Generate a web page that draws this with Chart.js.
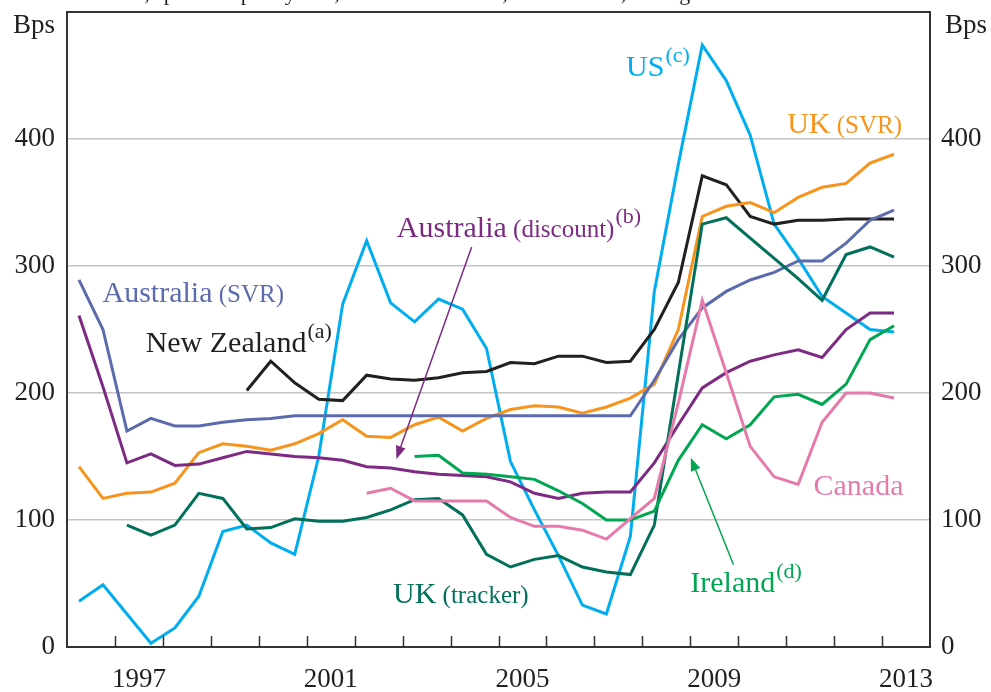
<!DOCTYPE html>
<html>
<head>
<meta charset="utf-8">
<script src="https://cdn.jsdelivr.net/npm/chart.js@4.4.0/dist/chart.umd.min.js"></script>
<style>
  html, body { margin: 0; padding: 0; background: #fff; }
  #chart { display: block; }
</style>
</head>
<body>
<canvas id="chart" width="991" height="692"></canvas>
<script>
const serif = "'Liberation Serif', 'Times New Roman', serif";

// half-year observations, plotted in the middle of each half
const periods = [
  1996.25, 1996.75, 1997.25, 1997.75, 1998.25, 1998.75, 1999.25, 1999.75,
  2000.25, 2000.75, 2001.25, 2001.75, 2002.25, 2002.75, 2003.25, 2003.75,
  2004.25, 2004.75, 2005.25, 2005.75, 2006.25, 2006.75, 2007.25, 2007.75,
  2008.25, 2008.75, 2009.25, 2009.75, 2010.25, 2010.75, 2011.25, 2011.75,
  2012.25, 2012.75, 2013.25
];
const yearLabels = [1997, 2001, 2005, 2009, 2013];
const yTicks = [0, 100, 200, 300, 400];

// spreads in basis points
const us = [36, 49, 26, 3, 15, 40, 91, 96, 82, 73, 150, 270, 320, 271, 256, 274, 266, 235,
  146, 108, 72, 33, 26, 87, 280, 380, 474, 446, 403, 333, 306, 276, 263, 250, 248];
const ukSvr = [142, 117, 121, 122, 129, 153, 160, 158, 155, 160, 168, 179, 166, 165, 175, 181, 170, 180,
  187, 190, 189, 184, 189, 196, 207, 250, 339, 347, 350, 342, 354, 362, 365, 381, 388];
const newZealand = [null, null, null, null, null, null, null, 202, 225, 208, 195, 194, 214, 211, 210, 212, 216, 217,
  224, 223, 229, 229, 224, 225, 250, 287, 371, 364, 339, 333, 336, 336, 337, 337, 337];
const ausSvr = [289, 250, 170, 180, 174, 174, 177, 179, 180, 182, 182, 182, 182, 182, 182, 182, 182, 182,
  182, 182, 182, 182, 182, 182, 210, 242, 267, 280, 289, 295, 304, 304, 318, 336, 344];
const ausDiscount = [261, 205, 145, 152, 143, 144, 149, 154, 152, 150, 149, 147, 142, 141, 138, 136, 135, 134,
  130, 121, 117, 121, 122, 122, 145, 175, 204, 216, 225, 230, 234, 228, 250, 263, 263];
const ukTracker = [null, null, 96, 88, 96, 121, 117, 93, 94, 101, 99, 99, 102, 108, 116, 117, 104, 73,
  63, 69, 72, 63, 59, 57, 96, 215, 333, 338, 322, 306, 290, 273, 309, 315, 307];
const ireland = [null, null, null, null, null, null, null, null, null, null, null, null, null, null, 150, 151, 137, 136,
  134, 132, 123, 113, 100, 100, 107, 147, 175, 164, 175, 197, 199, 191, 207, 242, 253];
const canada = [null, null, null, null, null, null, null, null, null, null, null, null, 121, 125, 115, 115, 115, 115,
  102, 95, 95, 92, 85, 101, 117, 192, 273, 216, 158, 134, 128, 177, 200, 200, 196];

const series = [
  { data: canada, color: '#e67aab' },
  { data: ireland, color: '#00a651' },
  { data: ukTracker, color: '#00705b' },
  { data: ausDiscount, color: '#7d2a84' },
  { data: ausSvr, color: '#5c6bae' },
  { data: ukSvr, color: '#f7941d' },
  { data: newZealand, color: '#231f20' },
  { data: us, color: '#00aeef' }
];

// text labels placed in data units (year, bps)
const labels = [
  { main: 'Australia', small: ' (SVR)', color: '#5c6bae', at: [1996.74, 272] },
  { main: 'New Zealand', sup: '(a)', color: '#231f20', at: [1997.64, 232] },
  { main: 'Australia', small: ' (discount)', sup: '(b)', color: '#7d2a84', at: [2002.88, 323] },
  { main: 'US', sup: '(c)', color: '#00aeef', at: [2007.66, 450] },
  { main: 'UK', small: ' (SVR)', color: '#f7941d', at: [2011.02, 405] },
  { main: 'Canada', color: '#e67aab', at: [2011.57, 120] },
  { main: 'Ireland', sup: '(d)', color: '#00a651', at: [2009.0, 43] },
  { main: 'UK', small: ' (tracker)', color: '#00705b', at: [2002.8, 35] }
];
const arrows = [
  { from: [2004.44, 315], to: [2002.87, 148], color: '#7d2a84' },
  { from: [2009.9, 65], to: [2009.01, 149], color: '#00a651' }
];

function drawLabel(ctx, lab, xs, ys) {
  const px = xs.getPixelForValue(lab.at[0]);
  const py = ys.getPixelForValue(lab.at[1]);
  ctx.fillStyle = lab.color;
  ctx.textAlign = 'left';
  ctx.textBaseline = 'alphabetic';
  ctx.font = `30px ${serif}`;
  ctx.fillText(lab.main, px, py);
  let cx = px + ctx.measureText(lab.main).width;
  if (lab.small) {
    ctx.font = `25px ${serif}`;
    ctx.fillText(lab.small, cx, py);
    cx += ctx.measureText(lab.small).width;
  }
  if (lab.sup) {
    ctx.font = `22px ${serif}`;
    ctx.fillText(lab.sup, cx + 1, py - 14);
  }
}

function drawArrow(ctx, ar, xs, ys) {
  const x1 = xs.getPixelForValue(ar.from[0]), y1 = ys.getPixelForValue(ar.from[1]);
  const x2 = xs.getPixelForValue(ar.to[0]), y2 = ys.getPixelForValue(ar.to[1]);
  const ang = Math.atan2(y2 - y1, x2 - x1);
  const len = 13, half = 5;
  ctx.strokeStyle = ar.color;
  ctx.fillStyle = ar.color;
  ctx.lineWidth = 1.5;
  ctx.beginPath();
  ctx.moveTo(x1, y1);
  ctx.lineTo(x2 - Math.cos(ang) * len * 0.8, y2 - Math.sin(ang) * len * 0.8);
  ctx.stroke();
  ctx.beginPath();
  ctx.moveTo(x2, y2);
  ctx.lineTo(x2 - Math.cos(ang) * len - Math.sin(ang) * half, y2 - Math.sin(ang) * len + Math.cos(ang) * half);
  ctx.lineTo(x2 - Math.cos(ang) * len + Math.sin(ang) * half, y2 - Math.sin(ang) * len - Math.cos(ang) * half);
  ctx.closePath();
  ctx.fill();
}

const frame = {
  id: 'frame',
  beforeDraw(chart) {
    const ctx = chart.ctx;
    ctx.save();
    ctx.fillStyle = '#fff';
    ctx.fillRect(0, 0, chart.width, chart.height);
    // title line, cut off by the top edge in the source
    ctx.fillStyle = '#231f20';
    ctx.font = `22px ${serif}`;
    ctx.textBaseline = 'alphabetic';
    ctx.fillText('Home loan rates, spread to policy rate, selected countries, semi-annual, average', 0, 0);
    ctx.restore();
  },
  afterDatasetsDraw(chart) {
    const { ctx, chartArea: a, scales: { x, y } } = chart;
    ctx.save();
    ctx.strokeStyle = '#333';
    ctx.lineWidth = 1.5;
    for (let yr = 1997; yr <= 2013; yr++) {
      const px = Math.round(x.getPixelForValue(yr)) + 0.5;
      ctx.beginPath();
      ctx.moveTo(px, a.bottom);
      ctx.lineTo(px, a.bottom - 11);
      ctx.stroke();
    }
    ctx.lineWidth = 2;
    ctx.strokeRect(a.left, a.top, a.right - a.left, a.bottom - a.top);

    ctx.fillStyle = '#231f20';
    ctx.font = `27px ${serif}`;
    ctx.textBaseline = 'alphabetic';
    ctx.textAlign = 'right';
    ctx.fillText('Bps', a.left - 12, 33);
    ctx.textAlign = 'left';
    ctx.fillText('Bps', a.right + 15, 33);

    labels.forEach(l => drawLabel(ctx, l, x, y));
    arrows.forEach(ar => drawArrow(ctx, ar, x, y));
    ctx.restore();
  }
};

const yScale = (position, pad, width) => ({
  type: 'linear',
  position,
  min: 0,
  max: 500,
  afterBuildTicks: s => { s.ticks = yTicks.map(v => ({ value: v })); },
  afterFit: s => {
    s.width = width;
    s.paddingTop = 0;
    s.paddingBottom = 0;
  },
  grid: {
    display: position === 'left',
    drawTicks: false,
    color: '#c4c4c4',
    lineWidth: 1.5
  },
  border: { display: false },
  ticks: {
    padding: pad,
    color: '#231f20',
    font: { family: serif, size: 27 }
  }
});

new Chart(document.getElementById('chart'), {
  type: 'line',
  data: {
    datasets: series.map(s => ({
      data: s.data.map((v, i) => ({ x: periods[i], y: v })),
      borderColor: s.color,
      borderWidth: 3,
      pointRadius: 0,
      tension: 0,
      fill: false,
      spanGaps: false,
      yAxisID: 'y'
    }))
  },
  options: {
    responsive: false,
    animation: false,
    layout: { padding: { top: 12, left: 0, right: 0, bottom: 0 } },
    plugins: { legend: { display: false }, tooltip: { enabled: false } },
    scales: {
      x: {
        type: 'linear',
        min: 1996,
        max: 2014,
        afterBuildTicks: s => { s.ticks = yearLabels.map(v => ({ value: v + 0.5 })); },
        afterFit: s => { s.height = 45; },
        grid: { display: false },
        border: { display: false },
        ticks: {
          padding: 9,
          maxRotation: 0,
          color: '#231f20',
          font: { family: serif, size: 27 },
          callback: v => String(Math.floor(v))
        }
      },
      y: yScale('left', 12, 67),
      y2: yScale('right', 11, 61)
    }
  },
  plugins: [frame]
});
</script>
</body>
</html>
